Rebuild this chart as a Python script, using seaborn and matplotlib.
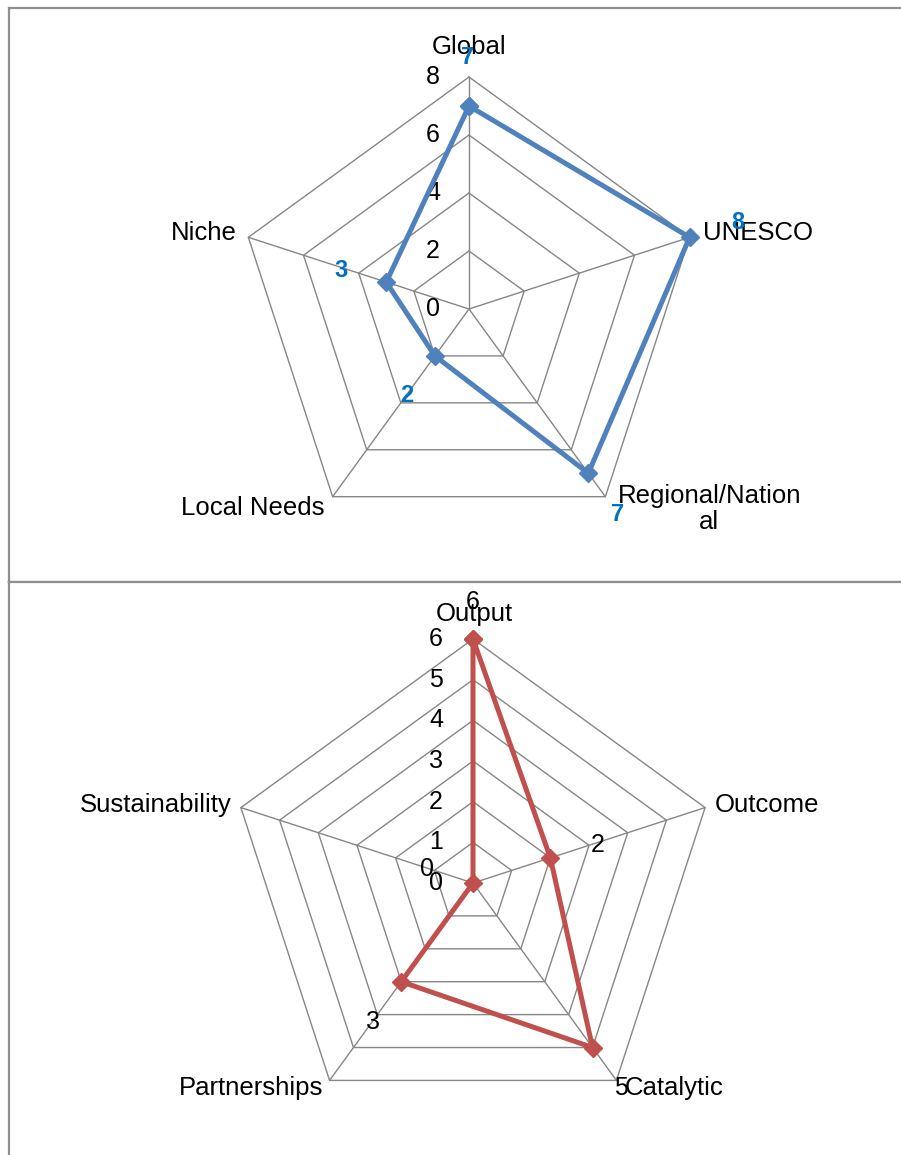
import numpy as np
import pandas as pd
import matplotlib
matplotlib.use("Agg")
import matplotlib.pyplot as plt
import seaborn as sns

sns.set_theme(style="white")
plt.rcParams['font.family'] = ['Liberation Sans', 'DejaVu Sans']

# ---- data -------------------------------------------------------------
scope_labels = ["Global", "UNESCO", "Regional/Nation\nal", "Local Needs", "Niche"]
scope_values = [7, 8, 7, 2, 3]
scope_ticks = [0, 2, 4, 6, 8]

results_labels = ["Output", "Outcome", "Catalytic", "Partnerships", "Sustainability"]
results_values = [6, 2, 5, 3, 0]
results_ticks = [0, 1, 2, 3, 4, 5, 6]

# ---- layout (pixels) -------------------------------------------------
W, H, DPI = 901, 1155, 100
GRID = "#868686"
BORDER = "#8f8f8f"

fig = plt.figure(figsize=(W / DPI, H / DPI), dpi=DPI)


def make_axes(left, top, right, bottom, cx, cy, scale):
    """Axes covering a pixel box; data units are chart values, centred at (cx, cy)."""
    ax = fig.add_axes([left / W, (H - bottom) / H, (right - left) / W, (bottom - top) / H])
    ax.set_xlim((left - cx) / scale, (right - cx) / scale)
    ax.set_ylim((cy - bottom) / scale, (cy - top) / scale)
    ax.set_xticks([])
    ax.set_yticks([])
    ax.set_xlabel("")
    ax.set_ylabel("")
    for s in ax.spines.values():
        s.set_color(BORDER)
        s.set_linewidth(1.6)
    ax.spines["right"].set_visible(False)
    return ax


def radar(ax, labels, values, ticks, color, cat_offsets, val_offsets, tick_pad,
          val_style):
    n = len(labels)
    ang = np.arange(n) * 2 * np.pi / n
    sx, sy = np.sin(ang), np.cos(ang)
    rmax = ticks[-1]

    # pentagon rings and spokes
    for t in ticks[1:]:
        ax.plot(np.append(sx, sx[0]) * t, np.append(sy, sy[0]) * t,
                color=GRID, lw=1.0, zorder=1)
    for i in range(n):
        ax.plot([0, sx[i] * rmax], [0, sy[i] * rmax], color=GRID, lw=1.0, zorder=1)

    # value axis labels along the first spoke
    for t in ticks:
        ax.annotate(str(t), xy=(0, t), xytext=(-tick_pad, 0),
                    textcoords="offset pixels", ha="right", va="center",
                    fontsize=18, color="black", zorder=2)

    # data polygon
    v = np.asarray(values, dtype=float)
    df = pd.DataFrame({"x": np.append(sx * v, sx[0] * v[0]),
                       "y": np.append(sy * v, sy[0] * v[0])})
    sns.lineplot(data=df, x="x", y="y", sort=False, estimator=None, ax=ax,
                 color=color, lw=3.6, marker="D", markersize=9,
                 markeredgecolor=color, markeredgewidth=1, zorder=3)
    ax.set_xlabel("")
    ax.set_ylabel("")

    # category labels at the outer vertices
    for i, lab in enumerate(labels):
        dx, dy, ha = cat_offsets[i]
        ax.annotate(lab, xy=(sx[i] * rmax, sy[i] * rmax), xytext=(dx, -dy),
                    textcoords="offset pixels", ha=ha, va="center",
                    multialignment="center", linespacing=1.1,
                    fontsize=18.5, color="black", zorder=4)

    # value labels
    for i, val in enumerate(values):
        dx, dy = val_offsets[i]
        ax.annotate(str(val), xy=(sx[i] * val, sy[i] * val), xytext=(dx, -dy),
                    textcoords="offset pixels", ha="center", va="center",
                    zorder=5, **val_style)


# top: scope
ax1 = make_axes(9, 7.5, W, 582, 469, 309, 29.0)
radar(ax1, scope_labels, scope_values, scope_ticks, "#4F81BD",
      cat_offsets=[(0, -30, "center"), (13, -4, "left"), (104, 12, "center"),
                   (-8, 11, "right"), (-12, -4, "right")],
      val_offsets=[(-1, -49), (48, -15), (29, 41), (-28, 40), (-45, -12)],
      tick_pad=29,
      val_style=dict(fontsize=17, fontweight="bold", color="#0070C0"))

# bottom: results
ax2 = make_axes(9, 582, W, H + 5, 473, 883, 40.67)
ax2.spines["bottom"].set_visible(False)
radar(ax2, results_labels, results_values, results_ticks, "#C0504D",
      cat_offsets=[(1, -25, "center"), (10, -3, "left"), (8, 8, "left"),
                   (-6, 8, "right"), (-9, -3, "right")],
      val_offsets=[(0, -37), (47, -13), (28, 40), (-28, 40), (-46, -14)],
      tick_pad=30,
      val_style=dict(fontsize=18, color="black"))

fig.savefig("out.png", dpi=DPI, facecolor="white")
